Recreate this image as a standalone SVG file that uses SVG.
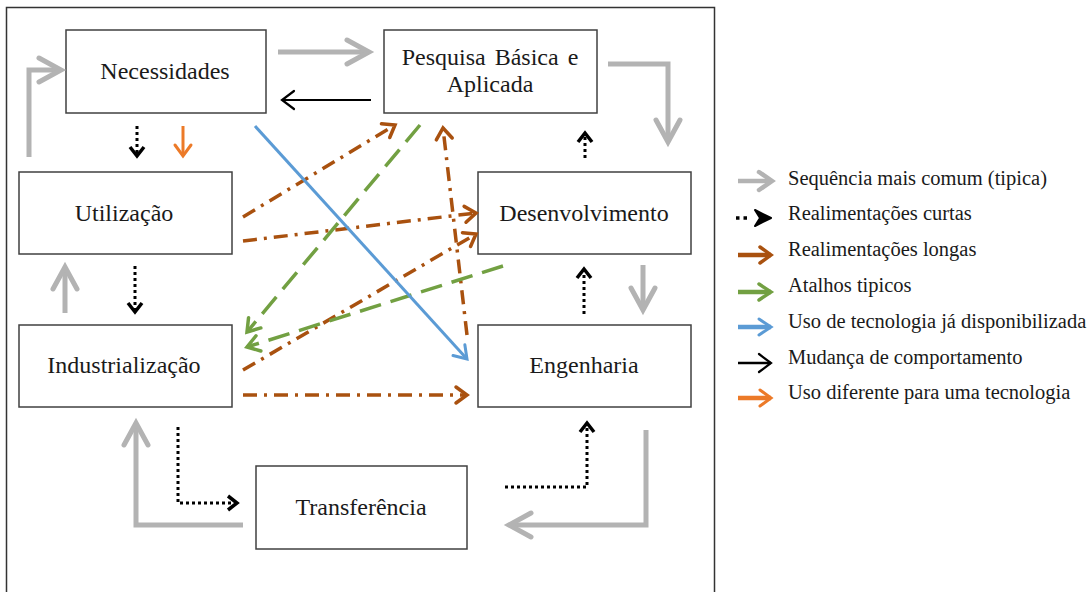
<svg xmlns="http://www.w3.org/2000/svg" width="1092" height="592" viewBox="0 0 1092 592">
  <style>
    .box { fill: #ffffff; stroke: #404040; stroke-width: 1.5; }
    .lbl { font-family: "Liberation Serif", "Times New Roman", serif; font-size: 24px; fill: #1a1a1a; text-anchor: middle; }
    .leg { font-family: "Liberation Serif", "Times New Roman", serif; font-size: 20.5px; fill: #1a1a1a; }
    .c { fill: none; stroke-linecap: butt; stroke-linejoin: miter; }
    .gray { stroke: #b3b3b3; stroke-width: 5; }
    .dot { stroke: #000000; stroke-width: 3; stroke-dasharray: 3 3; }
    .thin { stroke: #000000; stroke-width: 2; }
    .brown { stroke: #a9510f; stroke-width: 3.5; stroke-dasharray: 14 7 3 7; }
    .green { stroke: #72a042; stroke-width: 3.5; stroke-dasharray: 22 10; }
    .blue { stroke: #5b9bd5; stroke-width: 3; }
    .orange { stroke: #ec7a28; stroke-width: 3; }
  </style>
  <defs>
    <marker id="hGray" markerWidth="1" markerHeight="1" refX="0" refY="0" orient="auto" markerUnits="userSpaceOnUse" overflow="visible">
      <path d="M-22,-12 L0,0 L-22,12" fill="none" stroke="#b3b3b3" stroke-width="5" stroke-linecap="round"/>
    </marker>
    <marker id="hGraySm" markerWidth="1" markerHeight="1" refX="0" refY="0" orient="auto" markerUnits="userSpaceOnUse" overflow="visible">
      <path d="M-13,-9 L0,0 L-13,9" fill="none" stroke="#b3b3b3" stroke-width="4.5" stroke-linecap="round"/>
    </marker>
    <marker id="hDot" markerWidth="1" markerHeight="1" refX="0" refY="0" orient="auto" markerUnits="userSpaceOnUse" overflow="visible">
      <path d="M-9,-7 L0,0 L-9,7" fill="none" stroke="#000000" stroke-width="3.5"/>
    </marker>
    <marker id="hDotBold" markerWidth="1" markerHeight="1" refX="0" refY="0" orient="auto" markerUnits="userSpaceOnUse" overflow="visible">
      <path d="M-16,-8 L0,0 L-16,8 L-11,0 Z" fill="#000000" stroke="#000000" stroke-width="2" stroke-linejoin="round"/>
    </marker>
    <marker id="hThin" markerWidth="1" markerHeight="1" refX="0" refY="0" orient="auto" markerUnits="userSpaceOnUse" overflow="visible">
      <path d="M-12,-9 L0,0 L-12,9" fill="none" stroke="#000000" stroke-width="2.2" stroke-linecap="round"/>
    </marker>
    <marker id="hBrown" markerWidth="1" markerHeight="1" refX="0" refY="0" orient="auto" markerUnits="userSpaceOnUse" overflow="visible">
      <path d="M-11,-8 L0,0 L-11,8" fill="none" stroke="#a9510f" stroke-width="3.5" stroke-linecap="round"/>
    </marker>
    <marker id="hGreen" markerWidth="1" markerHeight="1" refX="0" refY="0" orient="auto" markerUnits="userSpaceOnUse" overflow="visible">
      <path d="M-12,-8 L0,0 L-12,8" fill="none" stroke="#72a042" stroke-width="3.5" stroke-linecap="round"/>
    </marker>
    <marker id="hBlue" markerWidth="1" markerHeight="1" refX="0" refY="0" orient="auto" markerUnits="userSpaceOnUse" overflow="visible">
      <path d="M-12,-8 L0,0 L-12,8" fill="none" stroke="#5b9bd5" stroke-width="3" stroke-linecap="round"/>
    </marker>
    <marker id="hOrange" markerWidth="1" markerHeight="1" refX="0" refY="0" orient="auto" markerUnits="userSpaceOnUse" overflow="visible">
      <path d="M-11,-8 L0,0 L-11,8" fill="none" stroke="#ec7a28" stroke-width="3" stroke-linecap="round"/>
    </marker>
  </defs>

  <rect x="0" y="0" width="1092" height="592" fill="#ffffff"/>
  <!-- outer frame -->
  <rect x="6.5" y="7.5" width="708" height="620" fill="none" stroke="#333333" stroke-width="1.5"/>

  <!-- stages -->
  <g id="necessidades">
    <rect class="box" x="66" y="30" width="200" height="83"/>
    <text class="lbl" x="165" y="79">Necessidades</text>
  </g>
  <g id="pesquisa">
    <rect class="box" x="384" y="30" width="213" height="83"/>
    <text class="lbl" x="490" y="65" word-spacing="3">Pesquisa Básica e</text>
    <text class="lbl" x="490" y="92">Aplicada</text>
  </g>
  <g id="utilizacao">
    <rect class="box" x="19" y="172" width="213" height="82"/>
    <text class="lbl" x="124" y="221">Utilização</text>
  </g>
  <g id="desenvolvimento">
    <rect class="box" x="478" y="172" width="213" height="82"/>
    <text class="lbl" x="584" y="221">Desenvolvimento</text>
  </g>
  <g id="industrializacao">
    <rect class="box" x="19" y="325" width="213" height="82"/>
    <text class="lbl" x="124" y="373">Industrialização</text>
  </g>
  <g id="engenharia">
    <rect class="box" x="478" y="325" width="213" height="82"/>
    <text class="lbl" x="584" y="373">Engenharia</text>
  </g>
  <g id="transferencia">
    <rect class="box" x="256" y="466" width="211" height="83"/>
    <text class="lbl" x="361" y="515">Transferência</text>
  </g>

  <!-- connectors -->
  <g id="connectors">
    <!-- typical sequence -->
    <path class="c gray" d="M29,157 V70 H61" marker-end="url(#hGray)"/>
    <path class="c gray" d="M278,52 H369" marker-end="url(#hGray)"/>
    <path class="c gray" d="M608,64 H668 V142" marker-end="url(#hGray)"/>
    <path class="c gray" d="M65,313 V267" marker-end="url(#hGray)"/>
    <path class="c gray" d="M643,265 V310" marker-end="url(#hGray)"/>
    <path class="c gray" d="M646,430 V525 H509" marker-end="url(#hGray)"/>
    <path class="c gray" d="M243,525 H136 V423" marker-end="url(#hGray)"/>

    <!-- behaviour change -->
    <path class="c thin" d="M371,100 H282" marker-end="url(#hThin)"/>

    <!-- short feedback -->
    <path class="c dot" d="M137,126 V156" marker-end="url(#hDot)"/>
    <path class="c dot" d="M585,158 V133" marker-end="url(#hDot)"/>
    <path class="c dot" d="M135,266 V312" marker-end="url(#hDot)"/>
    <path class="c dot" d="M584,314 V269" marker-end="url(#hDot)"/>
    <path class="c dot" d="M505,487 H587 V423" marker-end="url(#hDot)"/>
    <path class="c dot" d="M178,427 V503 H237" marker-end="url(#hDot)"/>

    <!-- different use -->
    <path class="c orange" d="M183,126 V156" marker-end="url(#hOrange)"/>

    <!-- long feedback -->
    <path class="c brown" d="M243,217 L395,125" marker-end="url(#hBrown)"/>
    <path class="c brown" d="M243,241 L476,213" marker-end="url(#hBrown)"/>
    <path class="c brown" d="M243,370 L476,234" marker-end="url(#hBrown)"/>
    <path class="c brown" d="M467,335 L443,128" marker-end="url(#hBrown)"/>
    <path class="c brown" d="M243,395 H467" marker-end="url(#hBrown)"/>

    <!-- shortcuts -->
    <path class="c green" d="M420,125 L247,332" marker-end="url(#hGreen)"/>
    <path class="c green" d="M503,266 L247,347" marker-end="url(#hGreen)"/>

    <!-- technology already available -->
    <path class="c blue" d="M255,126 L467,359" marker-end="url(#hBlue)"/>
  </g>

  <!-- legend -->
  <g id="legend">
    <path class="c" d="M738,181 H772" stroke="#b3b3b3" stroke-width="4.5" marker-end="url(#hGraySm)"/>
    <path class="c" d="M736,218 H750" stroke="#000000" stroke-width="3.5" stroke-dasharray="3.5 4"/>
    <path class="c" d="M758,218 H771" stroke="#000000" stroke-width="0" marker-end="url(#hDotBold)"/>
    <path class="c" d="M738,255 H771" stroke="#a9510f" stroke-width="4.5" marker-end="url(#hBrown)"/>
    <path class="c" d="M738,292 H771" stroke="#72a042" stroke-width="4.5" marker-end="url(#hGreen)"/>
    <path class="c" d="M738,327 H771" stroke="#5b9bd5" stroke-width="4.5" marker-end="url(#hBlue)"/>
    <path class="c" d="M738,363 H771" stroke="#000000" stroke-width="2.5" marker-end="url(#hThin)"/>
    <path class="c" d="M738,398 H771" stroke="#ec7a28" stroke-width="4.5" marker-end="url(#hOrange)"/>

    <text class="leg" x="788" y="185">Sequência mais  comum (tipica)</text>
    <text class="leg" x="788" y="220">Realimentações  curtas</text>
    <text class="leg" x="788" y="256">Realimentações  longas</text>
    <text class="leg" x="788" y="292">Atalhos tipicos</text>
    <text class="leg" x="788" y="328">Uso de tecnologia já disponibilizada</text>
    <text class="leg" x="788" y="364">Mudança de comportamento</text>
    <text class="leg" x="788" y="399">Uso diferente para uma tecnologia</text>
  </g>
</svg>
